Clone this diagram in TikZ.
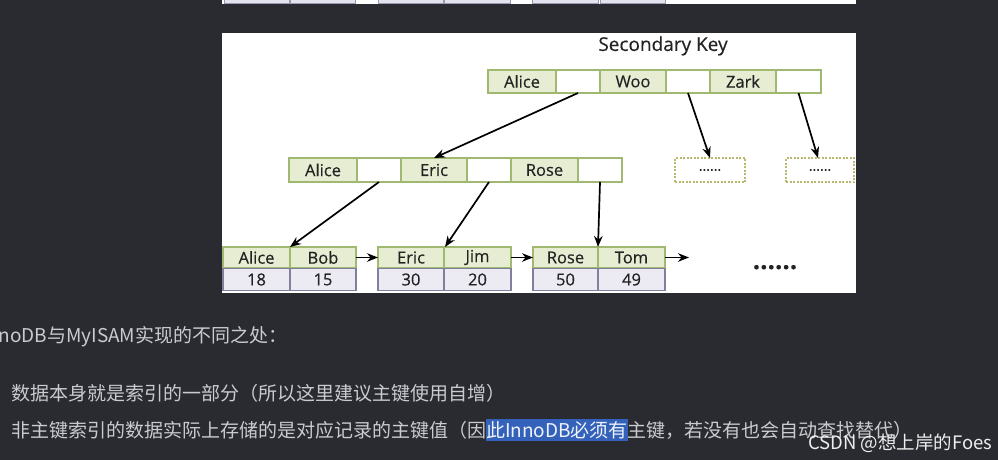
\documentclass[tikz,border=0pt]{standalone}
\usepackage{fontspec}
\newfontfamily\diag[FakeBold=0.35]{Open Sans}
\newfontfamily\cjk{Noto Sans CJK SC}
\usetikzlibrary{arrows.meta}
\definecolor{bg}{RGB}{41,43,49}
\definecolor{grn}{RGB}{160,184,112}
\definecolor{grnfill}{RGB}{230,237,210}
\definecolor{valb}{RGB}{128,128,156}
\definecolor{valfill}{RGB}{236,234,243}
\definecolor{dashc}{RGB}{184,184,110}
\definecolor{txt}{RGB}{35,35,35}
\definecolor{lite}{RGB}{202,203,206}
\definecolor{sel}{RGB}{52,98,186}
\definecolor{stripc}{RGB}{228,226,236}
\begin{document}
\begin{tikzpicture}[x=1pt,y=-1pt,
  cell/.style={draw, inner sep=0pt, outer sep=0pt, line width=1.2pt,
    font=\diag\fontsize{16.5}{16.5}\selectfont, text=txt},
  keycell/.style={cell, draw=grn, fill=grnfill},
  ptrcell/.style={cell, draw=grn, fill=white},
  valcell/.style={cell, draw=valb, fill=valfill},
  stripcell/.style={draw=valb!80, fill=stripc, line width=1pt, inner sep=0pt, outer sep=0pt,
    minimum height=9pt},
  dashbox/.style={draw=dashc, dash pattern=on 2pt off 1.5pt, line width=1.3pt, fill=white,
    inner sep=0pt, outer sep=0pt, minimum width=70pt, minimum height=24pt,
    font=\diag\fontsize{14}{14}\selectfont, text=txt},
  arr/.style={draw=black, line width=1.7pt, -{Stealth[length=11pt,width=8.5pt]}},
  txtline/.style={font=\cjk\fontsize{19}{19}\selectfont, text=lite, inner sep=0pt,
    outer sep=0pt, anchor=base west}
]
\useasboundingbox (0,0) rectangle (998,460);
\clip (0,0) rectangle (998,460);
\fill[bg] (0,0) rectangle (998,460);

% top strip (previous figure)
\fill[white] (222,-2) rectangle (856,4.5);
\node[stripcell, minimum width=65pt] (s1) at (256.5,-1) {};
\node[stripcell, minimum width=65pt] (s2) at (322.5,-1) {};
\node[stripcell, minimum width=65pt] (s3) at (410.5,-1) {};
\node[stripcell, minimum width=66pt] (s4) at (477,-1) {};
\node[stripcell, minimum width=66pt] (s5) at (565,-1) {};
\node[stripcell, minimum width=65pt] (s6) at (632.5,-1) {};

% main panel
\fill[white] (222,33) rectangle (856,293);
\node[font=\diag\fontsize{19}{19}\selectfont, text=txt, inner sep=0pt] (title) at (663,46) {Secondary Key};

% root
\node[keycell, minimum width=68pt, minimum height=23pt] (rA) at (522,81.5) {Alice};
\node[ptrcell, minimum width=44pt, minimum height=23pt] (rP1) at (578,81.5) {};
\node[keycell, minimum width=66pt, minimum height=23pt] (rW) at (633,81.5) {Woo};
\node[ptrcell, minimum width=44pt, minimum height=23pt] (rP2) at (688,81.5) {};
\node[keycell, minimum width=66pt, minimum height=23pt] (rZ) at (743,81.5) {Zark};
\node[ptrcell, minimum width=45pt, minimum height=23pt] (rP3) at (798.5,81.5) {};

% middle
\node[keycell, minimum width=68pt, minimum height=24pt] (mA) at (323,170) {Alice};
\node[ptrcell, minimum width=44pt, minimum height=24pt] (mP1) at (379,170) {};
\node[keycell, minimum width=66pt, minimum height=24pt] (mE) at (434,170) {Eric};
\node[ptrcell, minimum width=44pt, minimum height=24pt] (mP2) at (489,170) {};
\node[keycell, minimum width=67pt, minimum height=24pt] (mR) at (544.5,170) {Rose};
\node[ptrcell, minimum width=44pt, minimum height=24pt] (mP3) at (600,170) {};

% dashed boxes
\node[dashbox] (d1) at (710,170) {......};
\node[dashbox, minimum width=68pt] (d2) at (820,170) {......};

% leaves
\node[keycell, minimum width=67pt, minimum height=21pt] (l1a) at (256.5,257.5) {Alice};
\node[keycell, minimum width=66pt, minimum height=21pt] (l1b) at (323,257.5) {Bob};
\node[valcell, minimum width=67pt, minimum height=22pt] (v1a) at (256.5,279.5) {18};
\node[valcell, minimum width=66pt, minimum height=22pt] (v1b) at (323,279.5) {15};

\node[keycell, minimum width=66pt, minimum height=21pt] (l2a) at (411,257.5) {Eric};
\node[keycell, minimum width=67pt, minimum height=21pt] (l2b) at (477.5,257.5) {Jim};
\node[valcell, minimum width=66pt, minimum height=22pt] (v2a) at (411,279.5) {30};
\node[valcell, minimum width=67pt, minimum height=22pt] (v2b) at (477.5,279.5) {20};

\node[keycell, minimum width=65pt, minimum height=21pt] (l3a) at (565.5,257.5) {Rose};
\node[keycell, minimum width=67pt, minimum height=21pt] (l3b) at (631.5,257.5) {Tom};
\node[valcell, minimum width=65pt, minimum height=22pt] (v3a) at (565.5,279.5) {50};
\node[valcell, minimum width=67pt, minimum height=22pt] (v3b) at (631.5,279.5) {49};

\coordinate (nextleaf) at (689,257.5);
\node[font=\diag\bfseries\fontsize{26}{26}\selectfont, text=txt, inner sep=0pt, anchor=base] (more) at (775,269) {......};

% arrows
\draw[arr] (rP1.south) -- (mE.north);
\draw[arr] (rP2.south) -- (d1.north);
\draw[arr] (rP3.south) -- ([xshift=-2pt]d2.north);
\draw[arr] (mP1.south) -- (l1a.north east);
\draw[arr] (mP2.south) -- ([xshift=1pt]l2a.north east);
\draw[arr] (mP3.south) -- (l3a.north east);
\draw[arr] (l1b.east) -- (l2a.west);
\draw[arr] (l2b.east) -- (l3a.west);
\draw[arr] (l3b.east) -- (nextleaf);

% text below
\node[txtline] (t1) at (-1.5,342) {noDB与MyISAM实现的不同之处：};
\node[txtline] (t2) at (11,400) {数据本身就是索引的一部分（所以这里建议主键使用自增）};
\node[txtline] (t3a) at (11,437) {非主键索引的数据实际上存储的是对应记录的主键值（因};
\node[txtline, fill=sel, text=white!92!sel, inner ysep=2.5pt] (t3b) at (t3a.base east) {此InnoDB必须有};
\node[txtline] (t3c) at (t3b.base east) {主键，若没有也会自动查找替代）};
\node[font=\cjk\fontsize{18.5}{18.5}\selectfont, text=white!92!bg, inner sep=0pt, anchor=base west] (wm) at (808,449) {CSDN @想上岸的Foes};
\end{tikzpicture}
\end{document}
